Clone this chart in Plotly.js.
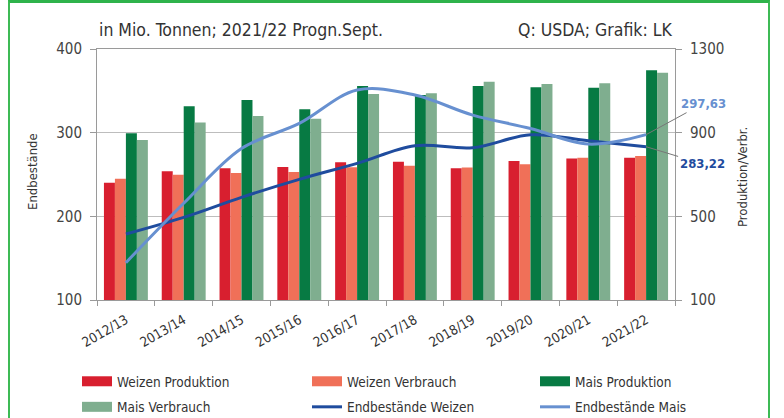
<!DOCTYPE html>
<html>
<head>
<meta charset="utf-8">
<script src="https://cdn.plot.ly/plotly-3.0.1.min.js"></script>
<style>
  body { margin:0; background:#fff; }
  #frame { position:absolute; left:8px; top:0; width:758px; height:440px;
           border-left:2px solid #3dba55; border-right:2px solid #3dba55; border-top:3px solid #2fb34b; }
  #chart { position:absolute; left:0; top:0; width:784px; height:418px; }
</style>
</head>
<body>
<div id="frame"></div>
<div id="chart"></div>
<script>
const seasons = ["2012/13","2013/14","2014/15","2015/16","2016/17","2017/18","2018/19","2019/20","2020/21","2021/22"];
const weizenProduktion = [661, 715, 730, 736, 758, 761, 730, 765, 776, 780];
const weizenVerbrauch  = [680, 699, 707, 712, 735, 742, 734, 749, 780, 788];
const maisProduktion   = [897, 1026, 1056, 1012, 1123, 1080, 1123, 1117, 1115, 1198];
const maisVerbrauch    = [865, 949, 980, 967, 1085, 1088, 1144, 1133, 1136, 1187];
const endWeizen        = [178.9, 198.8, 222.7, 244.2, 263.3, 284.4, 282.0, 297.5, 290.3, 283.22];
const endMais          = [144.6, 215.6, 281.0, 311.0, 351.0, 345.0, 321.0, 305.0, 286.4, 297.63];
const leftTicks  = [100, 200, 300, 400];
const rightTicks = [100, 500, 900, 1300];

const FONT = "Liberation Sans Narrow, DejaVu Sans Condensed, Arial Narrow, sans-serif";
const cWP = "#d81f2f", cWV = "#f07058", cMP = "#077a43", cMV = "#7fae8f";
const cEW = "#1f4c9e", cEM = "#6790d0";

function fmt(v){ return v.toFixed(2).replace('.', ','); }

function barTrace(name, vals, color){
  return { type:'bar', name:name, x:seasons, y:vals, yaxis:'y', marker:{color:color},
           showlegend:false, hoverinfo:'name+y' };
}
// legend-only entries so that the bar swatches are drawn as wide flat bars
function legendProxy(name, color, leg){
  return { type:'scatter', mode:'lines', name:name, x:[seasons[0]], y:[null], yaxis:'y',
           line:{color:color, width:10}, legend:leg, legendgroup:name, hoverinfo:'skip' };
}

const traces = [
  barTrace('Weizen Produktion', weizenProduktion, cWP),
  barTrace('Weizen Verbrauch', weizenVerbrauch, cWV),
  barTrace('Mais Produktion', maisProduktion, cMP),
  barTrace('Mais Verbrauch', maisVerbrauch, cMV),
  legendProxy('Weizen Produktion', cWP, 'legend'),
  legendProxy('Weizen Verbrauch', cWV, 'legend2'),
  legendProxy('Mais Produktion', cMP, 'legend3'),
  legendProxy('Mais Verbrauch', cMV, 'legend'),
  { type:'scatter', mode:'lines', name:'Endbestände Weizen', x:seasons, y:endWeizen, yaxis:'y2',
    line:{color:cEW, width:3, shape:'spline', smoothing:1}, legend:'legend2', legendgroup:'ew' },
  { type:'scatter', mode:'lines', name:'Endbestände Mais', x:seasons, y:endMais, yaxis:'y2',
    line:{color:cEM, width:3, shape:'spline', smoothing:1}, legend:'legend3', legendgroup:'em' },
];

const legFont = {family:FONT, size:13.5, color:'#333'};
function leg(px){ return { x:(px-97)/578, xanchor:'left', y:(300-366)/251, yanchor:'top',
  orientation:'v', font:legFont, bgcolor:'rgba(0,0,0,0)', itemwidth:30, tracegroupgap:5, borderwidth:0,
  traceorder:'grouped', itemclick:false }; }

const axisGray = '#9a9a9a';
const layout = {
  width:784, height:418,
  margin:{l:97, r:109, t:49, b:118, autoexpand:false},
  paper_bgcolor:'rgba(0,0,0,0)', plot_bgcolor:'rgba(0,0,0,0)',
  font:{family:FONT, color:'#333'},
  barmode:'group', bargap:0.24, bargroupgap:0,
  showlegend:true,
  legend:leg(77), legend2:leg(307), legend3:leg(535),
  xaxis:{ type:'category', range:[-0.5, seasons.length-0.5], autorange:false,
          tickson:'boundaries', ticks:'outside', ticklen:5, tickcolor:axisGray, ticklabelstandoff:6,
          showline:true, linecolor:axisGray, linewidth:1, mirror:true, showgrid:false,
          tickangle:-30, tickfont:{family:FONT, size:13.5, color:'#333'} },
  yaxis:{ side:'right', range:[100,1300], tickvals:rightTicks, ticks:'outside', ticklen:6,
          tickcolor:axisGray, showline:true, linecolor:axisGray, linewidth:1, ticklabelstandoff:5,
          showgrid:true, gridcolor:'#bdbdbd', gridwidth:1, zeroline:false,
          tickfont:{family:FONT, size:15, color:'#444'} },
  yaxis2:{ side:'left', overlaying:'y', range:[100,400], tickvals:leftTicks, ticks:'outside', ticklen:6,
          tickcolor:axisGray, showline:true, linecolor:axisGray, linewidth:1, ticklabelstandoff:5,
          showgrid:false, zeroline:false,
          tickfont:{family:FONT, size:15, color:'#444'} },
  annotations:[
    { xref:'paper', yref:'paper', x:0, y:1.076, xanchor:'left', yanchor:'middle', showarrow:false,
      text:'in Mio. Tonnen; 2021/22 Progn.Sept.', font:{family:FONT, size:17.5, color:'#333'} },
    { xref:'paper', yref:'paper', x:1, y:1.076, xanchor:'right', yanchor:'middle', showarrow:false,
      text:'Q: USDA; Grafik: LK', font:{family:FONT, size:17.5, color:'#333'} },
    { xref:'paper', yref:'paper', x:-0.1107, y:0.51, textangle:-90, showarrow:false,
      xanchor:'center', yanchor:'middle',
      text:'Endbestände', font:{family:FONT, size:13, color:'#333'} },
    { xref:'paper', yref:'paper', x:1.1159, y:0.49, textangle:-90, showarrow:false,
      xanchor:'center', yanchor:'middle',
      text:'Produktion/Verbr.', font:{family:FONT, size:13, color:'#333'} },
    { xref:'x', yref:'y2', x:seasons[seasons.length-1], y:endMais[endMais.length-1],
      text:'<b>'+fmt(endMais[endMais.length-1])+'</b>', showarrow:true, arrowhead:0, arrowwidth:1,
      arrowcolor:'#777', ax:57, ay:-31, standoff:0, font:{family:FONT, size:13, color:cEM} },
    { xref:'x', yref:'y2', x:seasons[seasons.length-1], y:endWeizen[endWeizen.length-1],
      text:'<b>'+fmt(endWeizen[endWeizen.length-1])+'</b>', showarrow:true, arrowhead:0, arrowwidth:1,
      arrowcolor:'#777', ax:56, ay:17, standoff:0, font:{family:FONT, size:13, color:cEW} }
  ]
};

Plotly.newPlot('chart', traces, layout, {displayModeBar:false, staticPlot:true});
</script>
</body>
</html>
